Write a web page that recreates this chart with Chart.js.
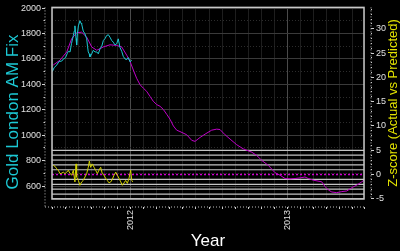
<!DOCTYPE html>
<html>
<head>
<meta charset="utf-8">
<script src="https://cdn.jsdelivr.net/npm/chart.js@4.4.1/dist/chart.umd.min.js"></script>
<style>
  html, body { margin: 0; padding: 0; background: #000; }
  #wrap { width: 400px; height: 251px; }
</style>
</head>
<body>
<div id="wrap"><canvas id="grafico"></canvas></div>
<script>
// Gold London AM fix (actual), decimal year
const goldDates = [2011.502, 2011.513, 2011.530, 2011.545, 2011.562, 2011.573, 2011.586, 2011.596, 2011.604, 2011.615,
  2011.624, 2011.636, 2011.642, 2011.646, 2011.653, 2011.657, 2011.662, 2011.668, 2011.678, 2011.685,
  2011.689, 2011.699, 2011.710, 2011.721, 2011.726, 2011.731, 2011.737, 2011.742, 2011.753, 2011.763,
  2011.774, 2011.785, 2011.795, 2011.806, 2011.817, 2011.827, 2011.838, 2011.848, 2011.859, 2011.869,
  2011.880, 2011.890, 2011.901, 2011.912, 2011.922, 2011.933, 2011.944, 2011.954, 2011.965, 2011.976,
  2011.986, 2011.997, 2012.008];
const goldPrices = [1500, 1530, 1552, 1580, 1583, 1600, 1610, 1640, 1660, 1655,
  1720, 1784, 1820, 1860, 1760, 1709, 1800, 1860, 1900, 1880,
  1874, 1819, 1797, 1758, 1700, 1655, 1640, 1616, 1640, 1668,
  1655, 1655, 1640, 1680, 1700, 1745, 1760, 1784, 1790, 1771,
  1745, 1732, 1710, 1719, 1758, 1690, 1660, 1620, 1600, 1595,
  1610, 1577, 1590];

// predicted price
const predDates = [2011.508, 2011.551, 2011.594, 2011.625, 2011.657, 2011.689, 2011.721, 2011.753, 2011.785, 2011.827,
  2011.869, 2011.912, 2011.944, 2011.976, 2011.997, 2012.018, 2012.039, 2012.061, 2012.082, 2012.103,
  2012.124, 2012.145, 2012.167, 2012.188, 2012.209, 2012.231, 2012.252, 2012.273, 2012.294, 2012.315,
  2012.358, 2012.390, 2012.411, 2012.443, 2012.475, 2012.517, 2012.549, 2012.570, 2012.602, 2012.634,
  2012.676, 2012.718, 2012.772, 2012.804, 2012.836, 2012.878, 2012.920, 2012.952, 2012.984, 2013.016,
  2013.048, 2013.080, 2013.111, 2013.132, 2013.164, 2013.218, 2013.239, 2013.260, 2013.282, 2013.313,
  2013.345, 2013.377, 2013.409, 2013.441, 2013.473, 2013.487];
const predPrices = [1552, 1590, 1655, 1758, 1806, 1810, 1771, 1694, 1668, 1694,
  1711, 1706, 1694, 1629, 1580, 1513, 1448, 1397, 1370, 1345,
  1306, 1267, 1241, 1228, 1203, 1164, 1125, 1073, 1040, 1029,
  1004, 960, 952, 983, 1009, 1040, 1048, 1045, 1004, 970,
  926, 893, 867, 841, 802, 763, 706, 686, 660, 657,
  660, 665, 672, 660, 647, 634, 596, 570, 554, 549,
  557, 562, 588, 608, 634, 647];

// z-score (actual vs predicted)
const zDates = [2011.508, 2011.519, 2011.530, 2011.540, 2011.551, 2011.562, 2011.572, 2011.583, 2011.594, 2011.604,
  2011.615, 2011.625, 2011.636, 2011.646, 2011.653, 2011.657, 2011.668, 2011.678, 2011.689, 2011.699,
  2011.710, 2011.721, 2011.731, 2011.738, 2011.746, 2011.757, 2011.768, 2011.778, 2011.789, 2011.799,
  2011.810, 2011.820, 2011.831, 2011.842, 2011.852, 2011.863, 2011.874, 2011.884, 2011.895, 2011.906,
  2011.916, 2011.927, 2011.938, 2011.948, 2011.959, 2011.969, 2011.980, 2011.990, 2012.001, 2012.008,
  2012.014];
const zScores = [1.9, 1.7, 1.2, 0.9, 0.2, 0.3, 0.5, 0.2, 0.5, 0.9,
  0.2, -0.1, 0.9, -1.5, 2.2, -0.5, -1.2, -2.2, -1.5, -1.2,
  -0.5, 0.2, 1.5, 2.8, 1.5, 2.2, 1.5, 0.9, 0.2, 0.9,
  1.5, 0.2, -0.1, -0.8, -1.2, -1.7, -1.5, -1.0, -0.1, 0.5,
  -0.1, -0.8, -1.5, -2.2, -1.7, -1.2, -1.8, -0.8, 0.9, -1.2,
  -1.5];

const zLevels = [-5, -4, -3, -2, -1, 1, 2, 3, 4, 5];
const yearTicks = [2012, 2013];
const priceTicks = [600, 800, 1000, 1200, 1400, 1600, 1800, 2000];
const zTicks = [-5, 0, 5, 10, 15, 20, 25, 30];

const xMin = 2011.5, xMax = 2013.487;
const fam = '"Liberation Sans", Arial, sans-serif';

const pts = (xs, ys) => xs.map((x, i) => ({ x: x, y: ys[i] }));

// month ticks for the x axis, minor price / z ticks
const monthTicks = [];
for (let m = 0; m < 24; m++) monthTicks.push(xMin + m / 12);
monthTicks.push(xMax);
const priceGrid = [];
for (let v = 600; v <= 2000; v += 100) priceGrid.push(v);
const zGrid = [];
for (let v = -5; v <= 34; v++) zGrid.push(v);

const datasets = [
  { label: 'Gold', data: pts(goldDates, goldPrices), yAxisID: 'y', borderColor: '#1cc8d4', borderWidth: 1 },
  { label: 'Predicted', data: pts(predDates, predPrices), yAxisID: 'y', borderColor: '#c000c8', borderWidth: 1 },
  { label: 'Z', data: pts(zDates, zScores), yAxisID: 'y2', borderColor: '#d2d200', borderWidth: 1 },
  { label: 'zero', data: [{ x: xMin, y: 0 }, { x: xMax, y: 0 }], yAxisID: 'y2', borderColor: '#d000d0', borderWidth: 1.5, borderDash: [2, 2] }
];
zLevels.forEach(z => {
  datasets.push({ label: 'z' + z, data: [{ x: xMin, y: z }, { x: xMax, y: z }], yAxisID: 'y2', borderColor: '#c4c4c4', borderWidth: 1.2 });
});

const decor = {
  id: 'decor',
  afterDraw(chart) {
    const { ctx, chartArea: a } = chart;
    ctx.save();
    // plot box
    ctx.strokeStyle = '#c8c8c8';
    ctx.lineWidth = 1.5;
    ctx.strokeRect(a.left, a.top, a.right - a.left, a.bottom - a.top);
    // offset axis lines
    ctx.strokeStyle = '#bdbdbd';
    ctx.lineWidth = 1;
    ctx.setLineDash([1, 2]);
    ctx.beginPath();
    ctx.moveTo(a.left - 7, a.top); ctx.lineTo(a.left - 7, a.bottom + 8);
    ctx.moveTo(a.left - 7, a.bottom + 8); ctx.lineTo(a.right, a.bottom + 8);
    ctx.moveTo(a.right + 7, a.top); ctx.lineTo(a.right + 7, a.bottom);
    ctx.stroke();
    ctx.setLineDash([]);
    // titles
    ctx.textAlign = 'center';
    ctx.textBaseline = 'middle';
    ctx.fillStyle = '#1cc8d4';
    ctx.font = '17px ' + fam;
    ctx.translate(13, 112);
    ctx.rotate(-Math.PI / 2);
    ctx.fillText('Gold London AM Fix', 0, 0);
    ctx.setTransform(1, 0, 0, 1, 0, 0);
    ctx.fillStyle = '#e2e200';
    ctx.font = '13px ' + fam;
    ctx.translate(393, 103);
    ctx.rotate(-Math.PI / 2);
    ctx.fillText('Z-score (Actual vs Predicted)', 0, 0);
    ctx.setTransform(1, 0, 0, 1, 0, 0);
    ctx.fillStyle = '#ffffff';
    ctx.font = '17px ' + fam;
    ctx.fillText('Year', 208, 241);
    ctx.restore();
  }
};

const ctx = document.getElementById('grafico').getContext('2d');

const grafico = new Chart(ctx, {
  type: 'line',
  data: { datasets: datasets },
  options: {
    responsive: true,
    maintainAspectRatio: false,
    animation: false,
    events: [],
    layout: { padding: { top: 5, left: 0, right: 0, bottom: 0 } },
    elements: { point: { radius: 0 }, line: { tension: 0 } },
    plugins: { legend: { display: false }, tooltip: { enabled: false } },
    scales: {
      x: {
        type: 'linear', position: 'bottom', min: xMin, max: xMax,
        afterBuildTicks: s => { s.ticks = monthTicks.map(v => ({ value: v })); },
        afterFit: s => { s.height = 52; },
        border: { display: false },
        grid: {
          color: c => yearTicks.includes(c.tick && c.tick.value) ? '#4a4a4a' : '#1e1e1e',
          tickLength: 10,
          tickColor: '#cfcfcf',
          tickBorderDash: c => yearTicks.includes(c.tick && c.tick.value) ? [0, 8, 3, 100] : [0, 8, 2, 100]
        },
        ticks: {
          color: '#e0e0e0', font: { size: 9, family: fam }, padding: 1,
          autoSkip: false, minRotation: 90, maxRotation: 90,
          callback: v => yearTicks.includes(v) ? String(v) : ''
        }
      },
      y: {
        position: 'left', min: 499, max: 2005,
        afterBuildTicks: s => { s.ticks = priceGrid.map(v => ({ value: v })); },
        afterFit: s => { s.width = 52; },
        border: {
          display: false,
          dash: c => priceTicks.includes(c.tick && c.tick.value) ? [] : [1, 2]
        },
        grid: {
          color: c => priceTicks.includes(c.tick && c.tick.value) ? '#3a3a3a' : '#2c2c2c',
          tickLength: 10,
          tickColor: '#cfcfcf',
          tickBorderDash: c => priceTicks.includes(c.tick && c.tick.value) ? [3, 100] : [0, 1.5, 1.5, 100]
        },
        ticks: {
          color: '#e0e0e0', font: { size: 9, family: fam }, padding: 1, autoSkip: false,
          callback: v => priceTicks.includes(v) ? String(v) : ''
        }
      },
      y2: {
        position: 'right', min: -5.02, max: 34.4,
        afterBuildTicks: s => { s.ticks = zGrid.map(v => ({ value: v })); },
        afterFit: s => { s.width = 36; },
        border: { display: false },
        grid: {
          drawOnChartArea: false,
          tickLength: 10,
          tickColor: '#cfcfcf',
          tickBorderDash: c => zTicks.includes(c.tick && c.tick.value) ? [0, 7, 3, 100] : [0, 7, 1, 100]
        },
        ticks: {
          color: '#e0e0e0', font: { size: 9, family: fam }, padding: 2, autoSkip: false,
          callback: v => zTicks.includes(v) ? String(v) : ''
        }
      }
    }
  },
  plugins: [decor]
});
</script>
</body>
</html>
